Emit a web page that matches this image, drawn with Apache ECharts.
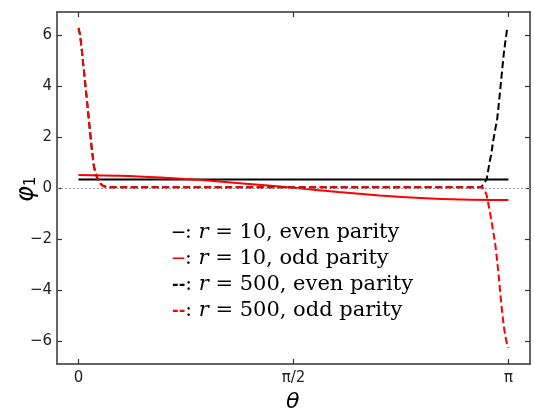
<!DOCTYPE html>
<html><head><meta charset="utf-8">
<script src="https://cdn.jsdelivr.net/npm/echarts@6/dist/echarts.min.js"></script>
<style>html,body{margin:0;padding:0;background:#fff}#c{width:535px;height:413px}</style>
</head><body><div id="c"></div>
<script>
// ---- data ----
const PI = Math.PI;
const xTickValues = [0, PI / 2, PI];
const xTickLabels = ['0', 'π/2', 'π'];
const yTickValues = [-6, -4, -2, 0, 2, 4, 6];

// r = 10
const theta10 = [0, 0.3, 0.6, 0.9, 1.2, 1.5708, 1.9, 2.2, 2.5, 2.8, 3.1416];
const even10 = [0.33, 0.33, 0.33, 0.33, 0.33, 0.33, 0.33, 0.33, 0.33, 0.33, 0.33];
const odd10 = [0.51, 0.48, 0.41, 0.31, 0.18, 0.01, -0.16, -0.29, -0.39, -0.45, -0.47];

// r = 500
const theta500 = [0, 0.012, 0.024, 0.036, 0.049, 0.061, 0.073, 0.085, 0.098, 0.112, 0.126, 0.141, 0.16, 0.178, 0.2, 0.22,
  0.4, 0.8, 1.2, 1.5708, 1.95, 2.35, 2.75, 2.92, 2.942, 2.955, 2.966, 2.983, 3.003, 3.015, 3.03, 3.045, 3.059, 3.07,
  3.084, 3.096, 3.108, 3.12, 3.132, 3.1416];
const even500 = [6.28, 6.0, 5.43, 4.78, 4.13, 3.48, 2.83, 2.18, 1.5, 0.87, 0.55, 0.35, 0.18, 0.09, 0.05, 0.03,
  0.03, 0.03, 0.03, 0.03, 0.03, 0.03, 0.03, 0.03, 0.03, 0.1, 0.2, 0.35, 1.0, 1.3, 1.85, 2.3, 2.7, 3.25,
  4.0, 4.65, 5.3, 5.8, 6.24, 6.28];
const odd500 = [6.28, 6.0, 5.43, 4.78, 4.13, 3.48, 2.83, 2.18, 1.5, 0.87, 0.55, 0.35, 0.18, 0.09, 0.05, 0.03,
  0.03, 0.03, 0.03, 0.03, 0.03, 0.03, 0.03, 0.03, 0.03, 0.01, -0.04, -0.3, -0.85, -1.21, -1.7, -2.2, -2.85, -3.45,
  -4.25, -4.9, -5.45, -5.85, -6.16, -6.28];

const legendLines = [
  { dash: '—', color: '#000', num: '10', text: 'even parity' },
  { dash: '—', color: '#ff0000', num: '10', text: 'odd parity' },
  { dash: '--', color: '#000', num: '500', text: 'even parity' },
  { dash: '--', color: '#ff0000', num: '500', text: 'odd parity' }
];

// ---- chart ----
const zip = (xs, ys) => xs.map((x, i) => [x, ys[i]]);
const chart = echarts.init(document.getElementById('c'), null, { renderer: 'canvas' });
const axisCol = '#333';
const xMin = -0.157, xMax = 3.299, yMin = -6.91, yMax = 6.91;
const tickFont = { fontFamily: 'DejaVu Sans', fontSize: 15, color: '#222' };

const dash = [7, 3.5];
const serif = 'DejaVu Serif';
const legendGraphics = legendLines.map((l, i) => ({
  type: 'text', left: 172, top: 222.5 + i * 25.8,
  style: {
    text: '{d|' + l.dash + '}{c|:}{i| r}{t| = ' + l.num + ', ' + l.text + '}',
    rich: {
      d: { fontFamily: 'DejaVu Sans', fontSize: l.dash === '—' ? 13 : 16, fill: l.color, fontWeight: 'bold' },
      c: { fontFamily: serif, fontSize: 20, fill: '#000' },
      i: { fontFamily: serif, fontSize: 21, fontStyle: 'italic', fill: '#000' },
      t: { fontFamily: serif, fontSize: 21, fill: '#000' }
    }
  }
}));

chart.setOption({
  animation: false,
  backgroundColor: '#fff',
  grid: { left: 57, right: 5, top: 12, bottom: 49, containLabel: false },
  xAxis: [
    { type: 'value', min: xMin, max: xMax, position: 'bottom',
      axisLine: { show: true, onZero: false, lineStyle: { color: axisCol, width: 1.5 } },
      axisTick: { show: true, inside: true, length: 5, customValues: xTickValues, lineStyle: { color: axisCol, width: 1.2 } },
      axisLabel: { show: true, customValues: xTickValues, margin: 7, ...tickFont,
        formatter: v => { const k = xTickValues.findIndex(t => Math.abs(t - v) < 1e-6); return k >= 0 ? xTickLabels[k] : ''; } },
      splitLine: { show: false } },
    { type: 'value', min: xMin, max: xMax, position: 'top',
      axisLine: { show: true, onZero: false, lineStyle: { color: axisCol, width: 1.5 } },
      axisTick: { show: true, inside: true, length: 5, customValues: xTickValues, lineStyle: { color: axisCol, width: 1.2 } },
      axisLabel: { show: false }, splitLine: { show: false } }
  ],
  yAxis: [
    { type: 'value', min: yMin, max: yMax, position: 'left',
      axisLine: { show: true, onZero: false, lineStyle: { color: axisCol, width: 1.5 } },
      axisTick: { show: true, inside: true, length: 5, customValues: yTickValues, lineStyle: { color: axisCol, width: 1.2 } },
      axisLabel: { show: true, customValues: yTickValues, margin: 5, ...tickFont,
        formatter: v => (v < 0 ? '\u2212' + Math.abs(v) : String(v)) },
      splitLine: { show: false } },
    { type: 'value', min: yMin, max: yMax, position: 'right',
      axisLine: { show: true, onZero: false, lineStyle: { color: axisCol, width: 1.5 } },
      axisTick: { show: true, inside: true, length: 5, customValues: yTickValues, lineStyle: { color: axisCol, width: 1.2 } },
      axisLabel: { show: false }, splitLine: { show: false } }
  ],
  graphic: [
    { type: 'text', left: 286, top: 391,
      style: { text: 'θ', fontFamily: 'DejaVu Sans', fontStyle: 'italic', fontSize: 22, fill: '#000' } },
    { type: 'text', x: 14, y: 202, rotation: Math.PI / 2,
      style: { text: '{p|φ}{s|1}', rich: {
        p: { fontFamily: 'DejaVu Sans', fontStyle: 'italic', fontSize: 24, fill: '#000' },
        s: { fontFamily: 'DejaVu Sans', fontSize: 15, fill: '#000', padding: [10, 0, 0, 0] } } } },
    ...legendGraphics
  ],
  series: [
    { name: 'r10 even', type: 'line', data: zip(theta10, even10), showSymbol: false, symbol: 'none',
      lineStyle: { color: '#000', width: 2 }, z: 3,
      markLine: { silent: true, symbol: 'none', label: { show: false },
        lineStyle: { color: '#999', type: [2, 2], width: 0.9 }, data: [{ yAxis: 0 }] } },
    { name: 'r10 odd', type: 'line', data: zip(theta10, odd10), showSymbol: false, symbol: 'none', smooth: 0.3,
      lineStyle: { color: '#ff0000', width: 2 }, z: 4 },
    { name: 'r500 even', type: 'line', data: zip(theta500, even500), showSymbol: false, symbol: 'none',
      lineStyle: { color: '#000', width: 2, type: dash }, z: 5 },
    { name: 'r500 odd', type: 'line', data: zip(theta500, odd500), showSymbol: false, symbol: 'none',
      lineStyle: { color: '#ff0000', width: 2, type: dash }, z: 6 }
  ]
});
</script>
</body></html>
